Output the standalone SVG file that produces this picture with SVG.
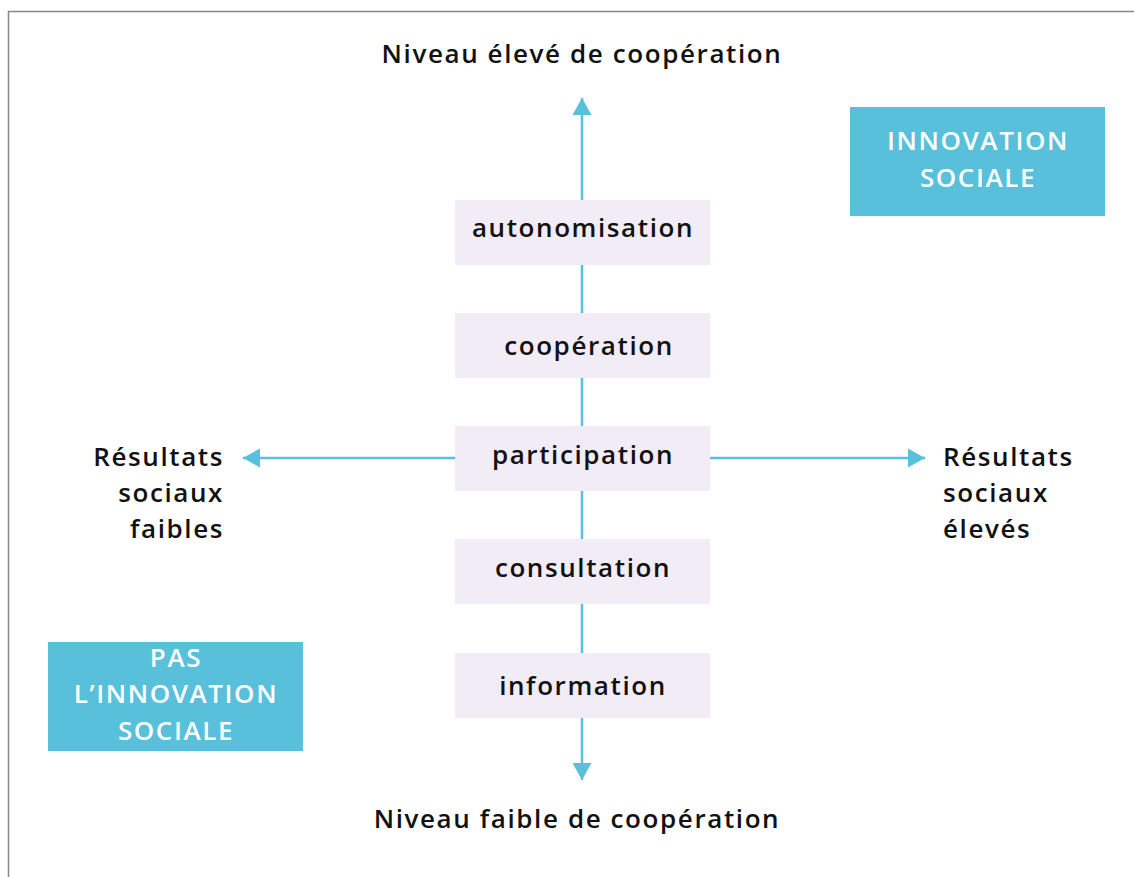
<svg xmlns="http://www.w3.org/2000/svg" width="1134" height="877" viewBox="0 0 1134 877">
<style>
.t{font-family:"Open Sans","Liberation Sans",sans-serif;font-weight:600;font-size:26px;fill:#111;letter-spacing:1.6px}
.w{font-family:"Open Sans","Liberation Sans",sans-serif;font-weight:600;font-size:26px;fill:#fff;letter-spacing:1.6px}
.box{fill:#F1ECF6}
.blue{fill:#59C0DB}
.ln{stroke:#59C0DB;stroke-width:2.5;fill:none}
</style>
<defs>
<marker id="ah" markerWidth="19" markerHeight="19" viewBox="0 0 17 19" refX="17" refY="9.5" orient="auto" markerUnits="userSpaceOnUse">
<path d="M0,0 L17,9.5 L0,19 Z" fill="#59C0DB"/>
</marker>
</defs>
<rect x="0" y="0" width="1134" height="877" fill="#fff"/>
<path d="M8.5,877 V11.5 H1134" stroke="#888" stroke-width="1.5" fill="none"/>
<g id="connectors">
<line class="ln" x1="582" y1="458" x2="582" y2="98" marker-end="url(#ah)"/>
<line class="ln" x1="582" y1="458" x2="582" y2="780" marker-end="url(#ah)"/>
<line class="ln" x1="582" y1="458" x2="243" y2="458" marker-end="url(#ah)"/>
<line class="ln" x1="582" y1="458" x2="925" y2="458" marker-end="url(#ah)"/>
</g>
<g id="top-label"><text class="t" x="582" y="63" text-anchor="middle">Niveau élevé de coopération</text></g>
<g id="bottom-label"><text class="t" x="577" y="828" text-anchor="middle">Niveau faible de coopération</text></g>
<g id="autonomisation"><rect class="box" x="455" y="200" width="255" height="65"/><text class="t" x="583" y="237" text-anchor="middle">autonomisation</text></g>
<g id="cooperation"><rect class="box" x="455" y="313" width="255" height="65"/><text class="t" x="589" y="355" text-anchor="middle">coopération</text></g>
<g id="participation"><rect class="box" x="455" y="426" width="255" height="65"/><text class="t" x="583" y="464" text-anchor="middle">participation</text></g>
<g id="consultation"><rect class="box" x="455" y="539" width="255" height="65"/><text class="t" x="583" y="577" text-anchor="middle">consultation</text></g>
<g id="information"><rect class="box" x="455" y="653" width="255" height="65"/><text class="t" x="583" y="695" text-anchor="middle">information</text></g>
<g id="left-label"><text class="t" text-anchor="end"><tspan x="224" y="466">Résultats</tspan><tspan x="224" y="502">sociaux</tspan><tspan x="224" y="538">faibles</tspan></text></g>
<g id="right-label"><text class="t"><tspan x="943" y="466">Résultats</tspan><tspan x="943" y="502">sociaux</tspan><tspan x="943" y="538">élevés</tspan></text></g>
<g id="innovation-sociale"><rect class="blue" x="850" y="107" width="255" height="109"/><text class="w" text-anchor="middle"><tspan x="978" y="150">INNOVATION</tspan><tspan x="978" y="187">SOCIALE</tspan></text></g>
<g id="pas-innovation"><rect class="blue" x="48" y="642" width="255" height="109"/><text class="w" text-anchor="middle"><tspan x="176" y="667">PAS</tspan><tspan x="176" y="703">L’INNOVATION</tspan><tspan x="176" y="740">SOCIALE</tspan></text></g>
</svg>
